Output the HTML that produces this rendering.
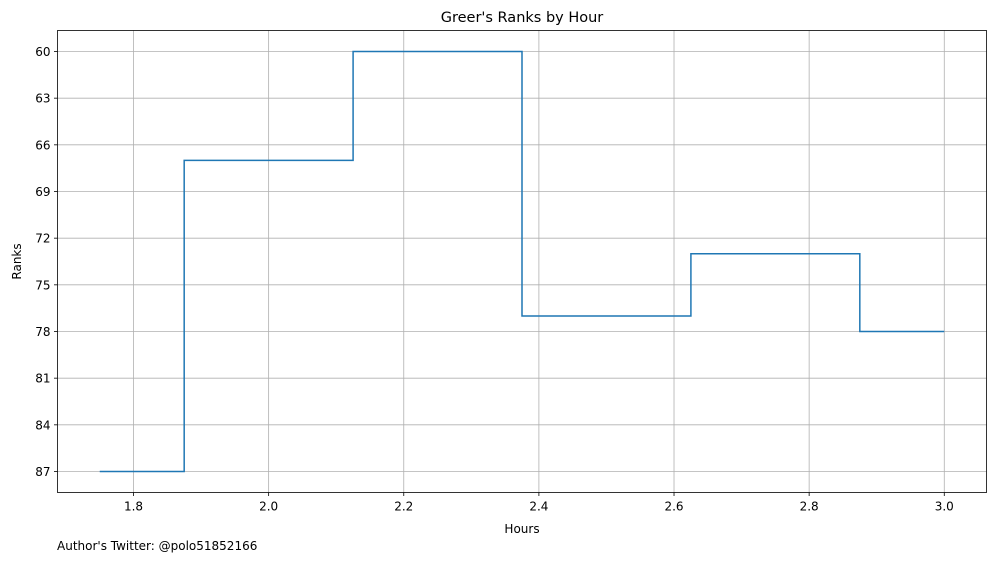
<!DOCTYPE html>
<html><head><meta charset="utf-8">
<style>
html,body{margin:0;padding:0;background:#fff;}
svg text{font-family:"DejaVu Sans","Liberation Sans",sans-serif;fill:#000;}
</style></head>
<body>
<svg id="chart" width="997" height="562" xmlns="http://www.w3.org/2000/svg"></svg>
<script>
const hours = [1.75, 2.0, 2.25, 2.5, 2.75, 3.0];
const ranks = [87, 67, 60, 77, 73, 78];
const xTicks = [1.8, 2.0, 2.2, 2.4, 2.6, 2.8, 3.0];
const yTicks = [60, 63, 66, 69, 72, 75, 78, 81, 84, 87];

const L=57.5,R=986.5,T=30.5,B=492.5;
const xMin=1.6875,xMax=3.0625,yMin=58.65,yMax=88.35;
const sx=v=>L+(v-xMin)/(xMax-xMin)*(R-L);
const sy=v=>T+(v-yMin)/(yMax-yMin)*(B-T);
const svg=document.getElementById('chart');
const NS='http://www.w3.org/2000/svg';
function mk(tag,attrs,parent){const e=document.createElementNS(NS,tag);for(const k in attrs)e.setAttribute(k,attrs[k]);(parent||svg).appendChild(e);return e;}

const grid=mk('g',{});


xTicks.forEach(t=>{
  const x=sx(t);
  mk('line',{x1:x,x2:x,y1:T,y2:B,stroke:'#b0b0b0','stroke-width':0.8},grid);
  mk('line',{x1:x,x2:x,y1:B,y2:B+3.5,stroke:'#000','stroke-width':0.8});
  const tx=mk('text',{x:x,y:B+18,'text-anchor':'middle','font-size':'12'});
  tx.textContent=t.toFixed(1);
  
  
});
yTicks.forEach(t=>{
  const y=sy(t);
  mk('line',{x1:L,x2:R,y1:y,y2:y,stroke:'#b0b0b0','stroke-width':0.8},grid);
  mk('line',{x1:L-3.5,x2:L,y1:y,y2:y,stroke:'#000','stroke-width':0.8});
  const tx=mk('text',{x:L-7,y:y+4.5,'text-anchor':'end','font-size':'12'});
  tx.textContent=t;
  
  
});

// step mid
let d='';
for(let i=0;i<hours.length;i++){
  const x0=i===0?hours[0]:(hours[i-1]+hours[i])/2;
  const x1=i===hours.length-1?hours[i]:(hours[i]+hours[i+1])/2;
  d+=(i===0?'M':'L')+sx(x0)+' '+sy(ranks[i])+' L'+sx(x1)+' '+sy(ranks[i])+' ';
}
const line=mk('path',{d:d,fill:'none',stroke:'#1f77b4','stroke-width':1.5});



const frame=mk('rect',{x:L,y:T,width:R-L,height:B-T,fill:'none',stroke:'#000','stroke-width':0.8});



const title=mk('text',{x:(L+R)/2,y:22,'text-anchor':'middle','font-size':'14.5'});
title.textContent="Greer's Ranks by Hour";



const xl=mk('text',{x:(L+R)/2,y:533,'text-anchor':'middle','font-size':'12'});
xl.textContent='Hours';



const yl=mk('text',{x:0,y:0,'text-anchor':'middle','font-size':'12',transform:'translate(21,'+((T+B)/2)+') rotate(-90)'});
yl.textContent='Ranks';



const note=mk('text',{x:57,y:550,'font-size':'12'});
note.textContent="Author's Twitter: @polo51852166";


</script>
</body></html>
